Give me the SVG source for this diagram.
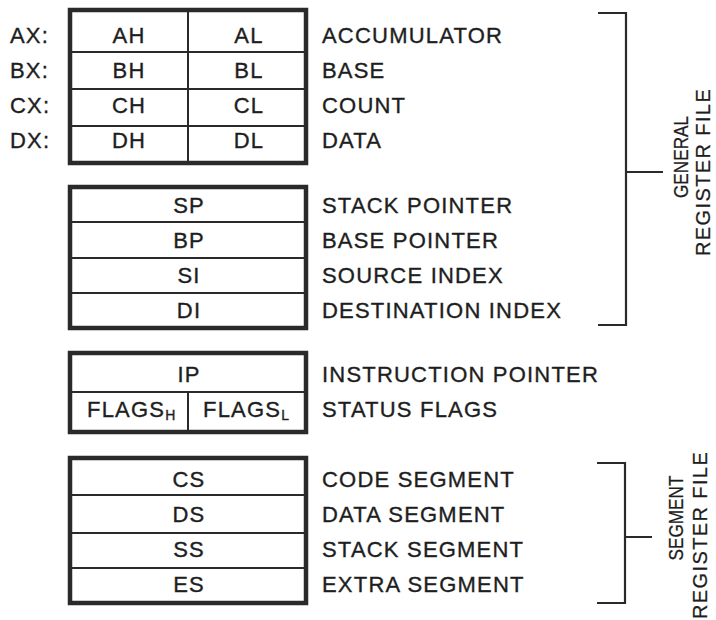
<svg xmlns="http://www.w3.org/2000/svg" width="716" height="620" viewBox="0 0 716 620">
  <style>
    text { font-family: "Liberation Sans", Arial, sans-serif; font-size: 22px; fill: #1e1e1e; stroke: #1e1e1e; stroke-width: 0.35; letter-spacing: 1.2px; }
    .c { text-anchor: middle; }
    .sub { font-size: 14px; letter-spacing: 0; }
    .frame { fill: #fff; stroke: #2a2a2a; stroke-width: 4.5; }
    .div { stroke: #2a2a2a; stroke-width: 2; fill: none; }
    .brk { stroke: #2a2a2a; stroke-width: 2.2; fill: none; }
    .vt { font-size: 20px; letter-spacing: 1.4px; text-anchor: middle; stroke-width: 0.25; }
    .vn { letter-spacing: 0; }
  </style>
  <rect width="716" height="620" fill="#fff"/>

  <!-- general-purpose byte-addressable registers -->
  <g id="data-registers">
    <rect class="frame" x="70" y="10" width="236" height="153"/>
    <path class="div" d="M70 52H306M70 89H306M70 126H306M188 10V163"/>
    <text x="10" y="43">AX:</text>
    <text x="10" y="78">BX:</text>
    <text x="10" y="113">CX:</text>
    <text x="10" y="148">DX:</text>
    <text class="c" x="129" y="43">AH</text>
    <text class="c" x="249" y="43">AL</text>
    <text class="c" x="129" y="78">BH</text>
    <text class="c" x="249" y="78">BL</text>
    <text class="c" x="129" y="113">CH</text>
    <text class="c" x="249" y="113">CL</text>
    <text class="c" x="129" y="148">DH</text>
    <text class="c" x="249" y="148">DL</text>
    <text x="322" y="43">ACCUMULATOR</text>
    <text x="322" y="78">BASE</text>
    <text x="322" y="113">COUNT</text>
    <text x="322" y="148">DATA</text>
  </g>

  <!-- pointer and index registers -->
  <g id="pointer-index-registers">
    <rect class="frame" x="70" y="187" width="236" height="141"/>
    <path class="div" d="M70 222H306M70 258H306M70 293H306"/>
    <text class="c" x="189" y="213">SP</text>
    <text class="c" x="189" y="248">BP</text>
    <text class="c" x="189" y="283">SI</text>
    <text class="c" x="189" y="318">DI</text>
    <text x="322" y="213">STACK POINTER</text>
    <text x="322" y="248">BASE POINTER</text>
    <text x="322" y="283">SOURCE INDEX</text>
    <text x="322" y="318">DESTINATION INDEX</text>
  </g>

  <!-- instruction pointer and flags -->
  <g id="control-registers">
    <rect class="frame" x="70" y="353" width="236" height="79"/>
    <path class="div" d="M70 392H306M188 392V432"/>
    <text class="c" x="189" y="382">IP</text>
    <text x="87" y="417">FLAGS<tspan class="sub" dy="3">H</tspan></text>
    <text x="203" y="417">FLAGS<tspan class="sub" dy="3">L</tspan></text>
    <text x="322" y="382">INSTRUCTION POINTER</text>
    <text x="322" y="417">STATUS FLAGS</text>
  </g>

  <!-- segment registers -->
  <g id="segment-registers">
    <rect class="frame" x="70" y="458" width="236" height="145"/>
    <path class="div" d="M70 495H306M70 533H306M70 568H306"/>
    <text class="c" x="189" y="487">CS</text>
    <text class="c" x="189" y="522">DS</text>
    <text class="c" x="189" y="557">SS</text>
    <text class="c" x="189" y="592">ES</text>
    <text x="322" y="487">CODE SEGMENT</text>
    <text x="322" y="522">DATA SEGMENT</text>
    <text x="322" y="557">STACK SEGMENT</text>
    <text x="322" y="592">EXTRA SEGMENT</text>
  </g>

  <!-- grouping brackets -->
  <g id="connectors">
    <path class="brk" d="M598 13H626V325H598M626 172H663"/>
    <path class="brk" d="M597 463H625V603H597M625 537H652"/>
  </g>

  <!-- vertical captions; the upper word is set slightly condensed -->
  <g id="general-register-file">
    <text class="vt vn" transform="translate(688 157) rotate(-90) scale(0.86 1)">GENERAL</text>
    <text class="vt" transform="translate(710 172) rotate(-90)">REGISTER FILE</text>
  </g>
  <g id="segment-register-file">
    <text class="vt vn" transform="translate(683 518) rotate(-90) scale(0.86 1)">SEGMENT</text>
    <text class="vt" transform="translate(707 535) rotate(-90)">REGISTER FILE</text>
  </g>
</svg>
